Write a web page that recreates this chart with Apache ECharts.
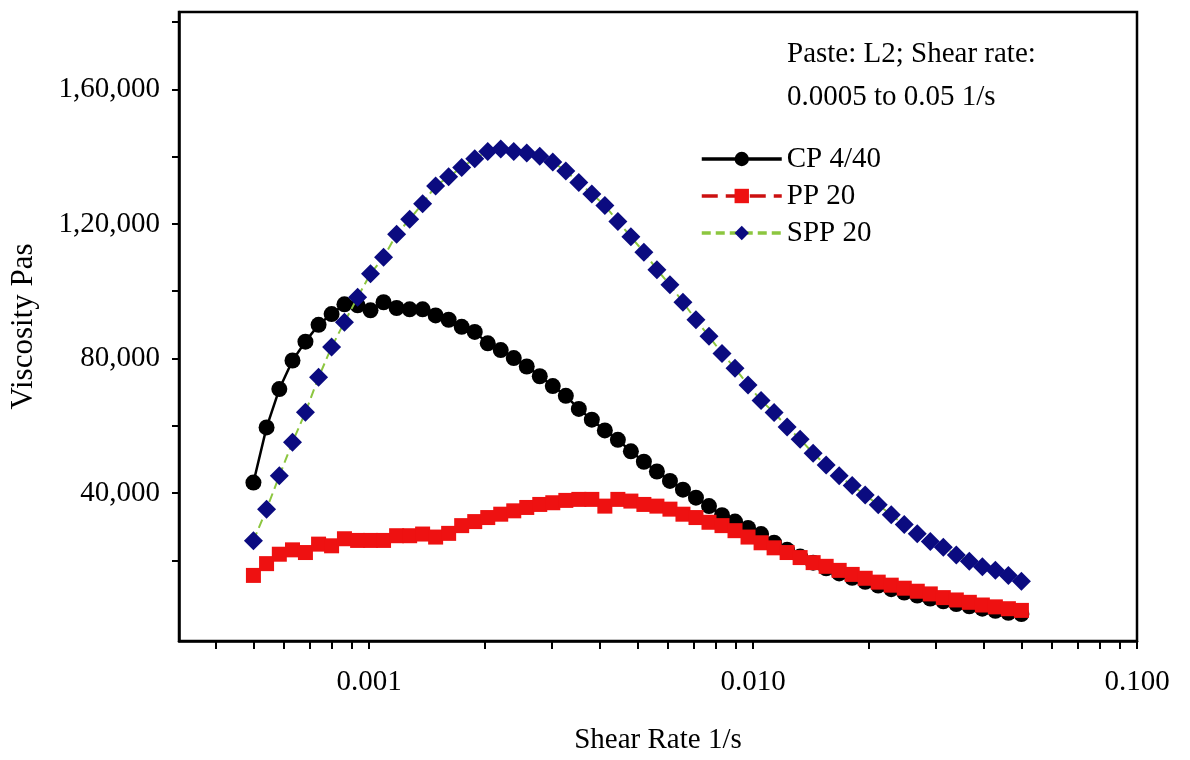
<!DOCTYPE html>
<html>
<head>
<meta charset="utf-8">
<title>Viscosity vs Shear Rate</title>
<script src="https://cdn.jsdelivr.net/npm/echarts@6.0.0/dist/echarts.min.js"></script>
<style>
  html, body { margin: 0; padding: 0; background: #fff; }
  #chart { width: 1190px; height: 760px; }
</style>
</head>
<body>
<div id="chart"></div>
<script>
// shear rate (1/s), 60 log-spaced steps from 0.0005 to 0.05
const shearRate = [
  0.000500, 0.000541, 0.000584, 0.000632, 0.000683, 0.000739, 0.000799, 0.000863, 0.000934, 0.001009,
  0.001091, 0.001180, 0.001276, 0.001379, 0.001491, 0.001612, 0.001743, 0.001885, 0.002038, 0.002203,
  0.002382, 0.002575, 0.002784, 0.003010, 0.003255, 0.003519, 0.003804, 0.004113, 0.004447, 0.004808,
  0.005198, 0.005620, 0.006077, 0.006570, 0.007103, 0.007680, 0.008303, 0.008977, 0.009706, 0.010496,
  0.011348, 0.012269, 0.013265, 0.014342, 0.015506, 0.016765, 0.018126, 0.019597, 0.021188, 0.022908,
  0.024768, 0.026779, 0.028952, 0.031303, 0.033844, 0.036591, 0.039561, 0.042772, 0.046244, 0.050000
];

// viscosity (Pas)
const cp440 = [
  43100, 59500, 70900, 79400, 85000, 90000, 93200, 96100, 95800, 94300,
  96700, 95000, 94600, 94600, 92800, 91500, 89400, 87900, 84500, 82500,
  80100, 77600, 74700, 71800, 68900, 65000, 61800, 58600, 55800, 52400,
  49300, 46400, 43600, 41000, 38600, 36100, 33400, 31500, 29600, 27800,
  25200, 23100, 21100, 19300, 17600, 16100, 14800, 13600, 12500, 11400,
  10400, 9500, 8600, 7800, 7000, 6300, 5600, 5000, 4400, 4000
];
const pp20 = [
  15500, 19000, 21800, 23100, 22300, 24800, 24300, 26400, 25900, 25900,
  25900, 27300, 27300, 27800, 26900, 28000, 30300, 31500, 32700, 33700,
  34700, 35700, 36600, 37100, 37800, 38100, 38100, 36100, 38100, 37600,
  36600, 36100, 35200, 33700, 32700, 31300, 30300, 28800, 26900, 25200,
  23700, 22300, 20800, 19300, 18200, 17000, 15800, 14650, 13500, 12600,
  11700, 10800, 10000, 8900, 8200, 7500, 6700, 6150, 5600, 5100
];
const spp20 = [
  25800, 35200, 45100, 55100, 64000, 74400, 83400, 90800, 98200, 105200,
  110100, 116900, 121400, 126000, 131300, 134000, 136800, 139400, 141500, 142300,
  141500, 141100, 140100, 138400, 135700, 132300, 128900, 125500, 120700, 116200,
  111600, 106400, 101900, 96700, 91500, 86600, 81500, 77100, 72100, 67500,
  63900, 59600, 56000, 51800, 48300, 45100, 42200, 39400, 36500, 33500,
  30600, 27900, 25600, 23900, 21600, 19700, 18100, 17000, 15500, 13800
];

// axis ticks and labels
const xTickValues = [
  0.0004, 0.0005, 0.0006, 0.0007, 0.0008, 0.0009, 0.001,
  0.002, 0.003, 0.004, 0.005, 0.006, 0.007, 0.008, 0.009, 0.01,
  0.02, 0.03, 0.04, 0.05, 0.06, 0.07, 0.08, 0.09, 0.1
];
const xLabelValues = [0.001, 0.01, 0.1];
const xLabelTexts = ["0.001", "0.010", "0.100"];
const yTickValues = [20000, 40000, 60000, 80000, 100000, 120000, 140000, 160000, 180000];
const yLabelValues = [40000, 80000, 120000, 160000];
const yLabelTexts = ["40,000", "80,000", "1,20,000", "1,60,000"];

const FONT = "Liberation Serif";

const pairs = (ys) => shearRate.map((x, i) => [x, ys[i]]);

const labelFor = (values, texts) => (v) => {
  const i = values.findIndex((t) => Math.abs(t - v) <= Math.abs(t) * 1e-6);
  return i >= 0 ? texts[i] : "";
};

const chart = echarts.init(document.getElementById("chart"));

const option = {
  backgroundColor: "#fff",
  animation: false,
  grid: {
    left: 176,
    right: 53,
    top: 12,
    bottom: 113,
    show: true,
    borderColor: "#000",
    borderWidth: 2.5,
  },
  legend: {
    orient: "vertical",
    left: 695,
    top: 139,
    itemWidth: 80,
    itemHeight: 18,
    itemGap: 7,
    lineStyle: { width: 3.5 },
    textStyle: { fontFamily: FONT, fontSize: 29, color: "#000", lineHeight: 30 },
    data: ["CP 4/40", "PP 20", "SPP 20"],
  },
  graphic: [
    {
      type: "text",
      left: 787,
      top: 33,
      style: {
        text: "Paste: L2; Shear rate:\n0.0005 to 0.05 1/s",
        font: "29px 'Liberation Serif'",
        lineHeight: 43,
        fill: "#000",
      },
    },
  ],
  xAxis: {
    type: "log",
    logBase: 10,
    min: 0.00032,
    max: 0.1,
    name: "Shear Rate 1/s",
    nameLocation: "middle",
    nameGap: 85,
    nameTextStyle: { fontFamily: FONT, fontSize: 29, color: "#000" },
    axisLine: { onZero: false, lineStyle: { color: "#000", width: 2.5 } },
    axisTick: {
      customValues: xTickValues,
      length: 8,
      lineStyle: { color: "#000", width: 2 },
    },
    minorTick: { show: false },
    axisLabel: {
      customValues: xLabelValues,
      formatter: labelFor(xLabelValues, xLabelTexts),
      margin: 27,
      fontFamily: FONT,
      fontSize: 29,
      color: "#000",
    },
    splitLine: { show: false },
  },
  yAxis: {
    type: "value",
    min: -4000,
    max: 183000,
    name: "Viscosity Pas",
    nameLocation: "middle",
    nameGap: 140,
    nameTextStyle: { fontFamily: FONT, fontSize: 31, color: "#000" },
    axisLine: { show: true, onZero: false, lineStyle: { color: "#000", width: 2.5 } },
    axisTick: {
      show: true,
      customValues: yTickValues,
      length: 7,
      lineStyle: { color: "#000", width: 2 },
    },
    axisLabel: {
      customValues: yLabelValues,
      formatter: labelFor(yLabelValues, yLabelTexts),
      margin: 19,
      fontFamily: FONT,
      fontSize: 29,
      color: "#000",
    },
    splitLine: { show: false },
  },
  series: [
    {
      name: "CP 4/40",
      type: "line",
      data: pairs(cp440),
      symbol: "circle",
      symbolSize: 16,
      showAllSymbol: true,
      itemStyle: { color: "#000" },
      lineStyle: { color: "#000", width: 2.5 },
      z: 2,
    },
    {
      name: "PP 20",
      type: "line",
      data: pairs(pp20),
      symbol: "rect",
      symbolSize: 15,
      showAllSymbol: true,
      itemStyle: { color: "#ee1111" },
      lineStyle: { color: "#cc1010", width: 3, type: [16, 8] },
      z: 3,
    },
    {
      name: "SPP 20",
      type: "line",
      data: pairs(spp20),
      symbol: "diamond",
      symbolSize: 19,
      showAllSymbol: true,
      itemStyle: { color: "#0b0b80" },
      lineStyle: { color: "#8cc63f", width: 2, type: [9, 5] },
      z: 4,
    },
  ],
};

chart.setOption(option);
window.addEventListener("resize", chart.resize);
</script>
</body>
</html>
